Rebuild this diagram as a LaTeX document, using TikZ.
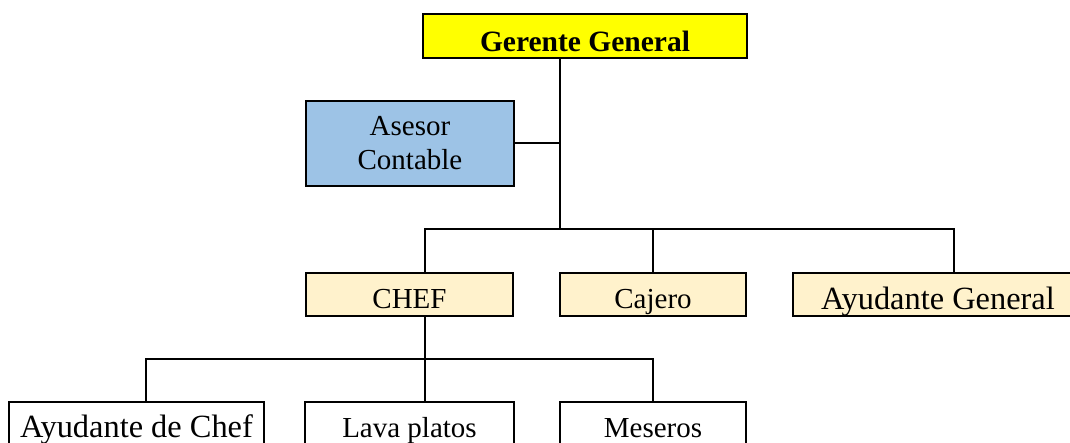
\documentclass[tikz,border=0pt]{standalone}
\usepackage{fontspec}
\setmainfont{Liberation Serif}
\definecolor{headyellow}{HTML}{FFFF00}
\definecolor{advisorblue}{HTML}{9DC3E6}
\definecolor{staffcream}{HTML}{FFF2CC}
\begin{document}
\begin{tikzpicture}[x=0.5pt,y=-0.5pt,
  box/.style={draw=black, line width=1pt, rectangle, inner sep=0pt,
    text height=17.5pt, text depth=4pt,
    font=\fontsize{14.5}{17}\selectfont},
  bigtext/.style={font=\fontsize{16.2}{19}\selectfont},
  link/.style={draw=black, line width=1pt}]
\useasboundingbox (0,0) rectangle (1070,443);
\clip (0,0) rectangle (1070,443);

% management
\node[box, fill=headyellow, line width=1.25pt, minimum width=162pt,
      text height=19pt, text depth=3pt,
      font=\fontsize{14.75}{17}\selectfont\bfseries] (gg) at (585,36) {Gerente General};
\node[box, fill=advisorblue, minimum width=104pt, minimum height=42.5pt,
      text height=, text depth=, align=center] (asesor) at (410,143.5) {Asesor\\Contable};

% second level
\node[box, fill=staffcream, minimum width=103.5pt] (chef) at (409.5,294.5) {CHEF};
\node[box, fill=staffcream, minimum width=93pt] (cajero) at (653,294.5) {Cajero};
\node[box, fill=staffcream, bigtext, minimum width=145pt,
      text height=18pt, text depth=3.5pt] (ayg) at (938,294.5) {Ayudante General};

% kitchen staff
\node[box, bigtext, minimum width=127.5pt] (ayc) at (136.5,423.5) {Ayudante de Chef};
\node[box, minimum width=104.5pt] (lava) at (409.5,423.5) {Lava platos};
\node[box, minimum width=93pt] (mes) at (653,423.5) {Meseros};

% bus points
\coordinate (spine) at (560,229);
\coordinate (busL) at (425,229);
\coordinate (busR) at (954,229);
\coordinate (drop) at (425,359);
\coordinate (kL) at (146,359);
\coordinate (kR) at (653,359);

% connectors
\draw[link] (gg.south -| spine) -- (spine);
\draw[link] (asesor.east) -- (asesor.east -| spine);
\draw[link] (busL |- chef.north) -- (busL) -- (busR) -- (busR |- ayg.north);
\draw[link] (cajero.north) -- (cajero.north |- busL);
\draw[link] (drop |- chef.south) -- (drop |- lava.north);
\draw[link] (kL |- ayc.north) -- (kL) -- (kR) -- (kR |- mes.north);
\end{tikzpicture}
\end{document}
